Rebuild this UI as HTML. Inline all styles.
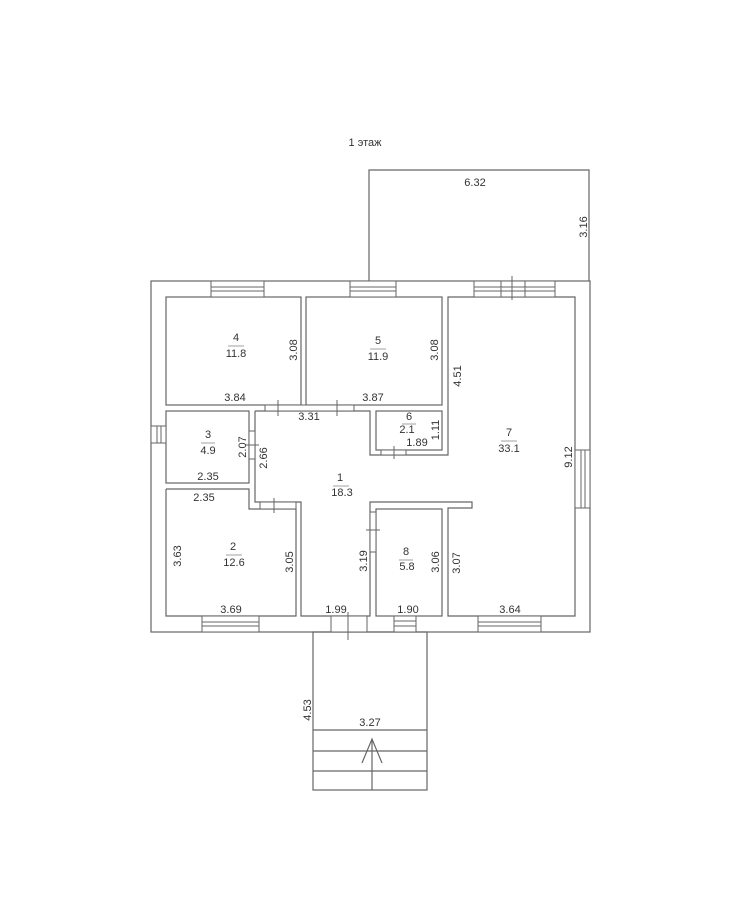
<!DOCTYPE html>
<html><head><meta charset="utf-8"><style>
html,body{margin:0;padding:0;background:#fff;width:735px;height:910px;overflow:hidden}
svg{display:block}
text{font-family:"Liberation Sans","DejaVu Sans",sans-serif;font-size:11px;fill:#333;text-anchor:middle;dominant-baseline:middle}
</style></head><body>
<svg width="735" height="910" viewBox="0 0 735 910" xmlns="http://www.w3.org/2000/svg">
<g fill="none" stroke="#666" stroke-width="1.2">
<!-- terrace -->
<polyline points="369,281 369,170 589,170 589,281"/>
<!-- outer walls -->
<rect x="151" y="281" width="439" height="351"/>
<!-- rooms -->
<rect x="166" y="297" width="135" height="108"/>
<rect x="306" y="297" width="136" height="108"/>
<rect x="166" y="411" width="83" height="72"/>
<polyline points="166,489 249,489 249,509 296,509 296,616 166,616 166,489"/>
<rect x="376" y="411" width="66" height="39"/>
<rect x="376" y="509" width="66" height="107"/>
<!-- corridor -->
<polyline points="255,411 370,411 370,455 448,455 448,297 575,297 575,616 448,616 448,508 472,508 472,502 370,502 370,616 301,616 301,502 255,502 255,411"/>
<!-- porch -->
<rect x="313" y="632" width="114" height="158"/>
<line x1="313" y1="730" x2="427" y2="730"/>
<line x1="313" y1="751" x2="427" y2="751"/>
<line x1="313" y1="771" x2="427" y2="771"/>
<line x1="372" y1="790" x2="372" y2="739"/>
<polyline points="362,763 372,739 382,763"/>
</g>
<!-- windows -->
<g fill="#fff" stroke="#666" stroke-width="1">
<rect x="211" y="281" width="53" height="16"/><line x1="211" y1="287" x2="264" y2="287"/><line x1="211" y1="291" x2="264" y2="291"/>
<rect x="350" y="281" width="46" height="16"/><line x1="350" y1="287" x2="396" y2="287"/><line x1="350" y1="291" x2="396" y2="291"/>
<rect x="474" y="281" width="81" height="16"/><line x1="474" y1="287" x2="555" y2="287"/><line x1="474" y1="291" x2="555" y2="291"/>
<line x1="501" y1="281" x2="501" y2="297"/><line x1="512" y1="276" x2="512" y2="300"/><line x1="525" y1="281" x2="525" y2="297"/>
<rect x="151" y="426" width="15" height="17"/><line x1="157" y1="426" x2="157" y2="443"/><line x1="161" y1="426" x2="161" y2="443"/>
<rect x="575" y="450" width="15" height="58"/><line x1="581" y1="450" x2="581" y2="508"/><line x1="585" y1="450" x2="585" y2="508"/>
<rect x="202" y="616" width="57" height="16"/><line x1="202" y1="622" x2="259" y2="622"/><line x1="202" y1="626" x2="259" y2="626"/>
<rect x="394" y="616" width="22" height="16"/><line x1="394" y1="621" x2="416" y2="621"/><line x1="394" y1="626" x2="416" y2="626"/>
<rect x="478" y="616" width="63" height="16"/><line x1="478" y1="622" x2="541" y2="622"/><line x1="478" y1="626" x2="541" y2="626"/>
<!-- doors -->
<rect x="331" y="616" width="36" height="16"/><line x1="348" y1="612" x2="348" y2="640"/>
<rect x="265" y="405" width="89" height="6"/><line x1="278" y1="400" x2="278" y2="416"/><line x1="337" y1="400" x2="337" y2="416"/>
<rect x="249" y="431" width="6" height="28"/><line x1="245" y1="445" x2="259" y2="445"/>
<rect x="260" y="502" width="36" height="7"/><line x1="274" y1="498" x2="274" y2="513"/>
<rect x="381" y="450" width="25" height="5"/><line x1="394" y1="446" x2="394" y2="459"/>
<rect x="370" y="512" width="6" height="40"/><line x1="366" y1="530" x2="380" y2="530"/>
</g>
<text x="365" y="143">1 этаж</text>
<g stroke="#888" stroke-width="0.8">
<line x1="228" y1="346" x2="244" y2="346"/><line x1="370" y1="349" x2="386" y2="349"/>
<line x1="402" y1="424" x2="416" y2="424"/><line x1="501" y1="441" x2="517" y2="441"/>
<line x1="201" y1="443" x2="215" y2="443"/><line x1="333" y1="486" x2="349" y2="486"/>
<line x1="226" y1="555" x2="242" y2="555"/><line x1="399" y1="560" x2="413" y2="560"/>
</g>
<text x="236" y="338">4</text><text x="236" y="354">11.8</text>
<text x="378" y="341">5</text><text x="378" y="357">11.9</text>
<text x="409" y="417">6</text><text x="407" y="430">2.1</text>
<text x="509" y="433">7</text><text x="509" y="449">33.1</text>
<text x="208" y="435">3</text><text x="208" y="451">4.9</text>
<text x="340" y="478">1</text><text x="342" y="493">18.3</text>
<text x="233" y="547">2</text><text x="234" y="563">12.6</text>
<text x="406" y="552">8</text><text x="407" y="567">5.8</text>
<text x="235" y="398">3.84</text><text x="373" y="398">3.87</text>
<text x="309" y="417">3.31</text><text x="417" y="443">1.89</text>
<text x="208" y="477">2.35</text><text x="204" y="498">2.35</text>
<text x="231" y="610">3.69</text><text x="336" y="610">1.99</text>
<text x="408" y="610">1.90</text><text x="510" y="610">3.64</text>
<text x="475" y="183">6.32</text><text x="370" y="723">3.27</text>
<text transform="translate(294,350) rotate(-90)">3.08</text>
<text transform="translate(435,350) rotate(-90)">3.08</text>
<text transform="translate(458,376) rotate(-90)">4.51</text>
<text transform="translate(436,430) rotate(-90)">1.11</text>
<text transform="translate(243,447) rotate(-90)">2.07</text>
<text transform="translate(264,458) rotate(-90)">2.66</text>
<text transform="translate(569,457) rotate(-90)">9.12</text>
<text transform="translate(178,556) rotate(-90)">3.63</text>
<text transform="translate(290,562) rotate(-90)">3.05</text>
<text transform="translate(364,561) rotate(-90)">3.19</text>
<text transform="translate(436,562) rotate(-90)">3.06</text>
<text transform="translate(457,563) rotate(-90)">3.07</text>
<text transform="translate(584,227) rotate(-90)">3.16</text>
<text transform="translate(308,710) rotate(-90)">4.53</text>
</svg>
</body></html>
